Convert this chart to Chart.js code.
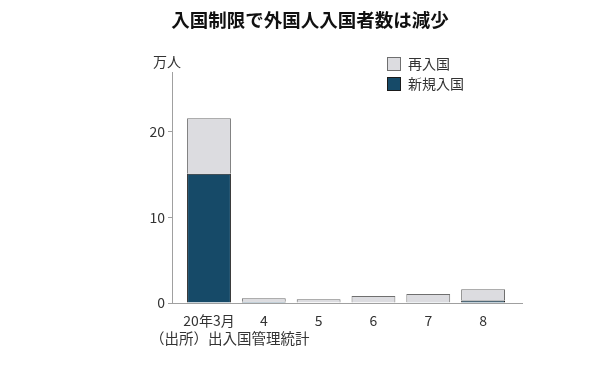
<!DOCTYPE html>
<html>
<head>
<meta charset="utf-8">
<script src="https://cdn.jsdelivr.net/npm/chart.js@4/dist/chart.umd.min.js"></script>
<style>
  html, body { margin: 0; padding: 0; background: #fff; }
  #wrap { width: 600px; height: 375px; position: relative; }
</style>
</head>
<body>
<div id="wrap"><canvas id="chart" width="600" height="375"></canvas></div>
<script>
const months = ['20年3月', '4', '5', '6', '7', '8'];
const newEntries = [15.1, 0.15, 0.05, 0.07, 0.1, 0.3];
const reEntries = [6.5, 0.4, 0.38, 0.75, 0.95, 1.3];
const yTicks = [0, 10, 20];

const FONT = '"Noto Sans CJK JP", "Noto Sans", sans-serif';
const DARK = '#164a68';
const LIGHT = '#dcdce0';

// titles, unit label, legend and source note
const decorations = {
  id: 'decorations',
  afterDraw(chart) {
    const ctx = chart.ctx;
    ctx.save();
    ctx.fillStyle = '#111';
    ctx.textBaseline = 'middle';
    ctx.textAlign = 'center';
    ctx.font = 'bold 18.5px ' + FONT;
    ctx.fillText('入国制限で外国人入国者数は減少', 310, 20);

    ctx.fillStyle = '#333';
    ctx.font = '14px ' + FONT;
    ctx.textAlign = 'left';
    ctx.fillText('万人', 153, 62);
    ctx.font = '14.5px ' + FONT;
    ctx.fillText('（出所）出入国管理統計', 150, 338);

    // legend
    ctx.font = '14px ' + FONT;
    const items = [chart.data.datasets[1], chart.data.datasets[0]];
    items.forEach((ds, i) => {
      const y = 57 + i * 20;
      ctx.fillStyle = ds.backgroundColor;
      ctx.fillRect(387, y, 14, 14);
      ctx.strokeStyle = ds.borderColor;
      ctx.lineWidth = 1;
      ctx.strokeRect(387.5, y + 0.5, 13, 13);
      ctx.fillStyle = '#333';
      ctx.fillText(ds.label, 408, y + 7);
    });
    ctx.restore();
  }
};

new Chart(document.getElementById('chart'), {
  type: 'bar',
  data: {
    datasets: [
      {
        label: '新規入国',
        data: newEntries.map((v, i) => ({ x: i, y: v })),
        backgroundColor: DARK,
        borderColor: '#1a1a1a',
        borderWidth: 1,
        barPercentage: 0.8,
        categoryPercentage: 1
      },
      {
        label: '再入国',
        data: reEntries.map((v, i) => ({ x: i, y: v })),
        backgroundColor: LIGHT,
        borderColor: '#6f6f6f',
        borderWidth: 1,
        barPercentage: 0.8,
        categoryPercentage: 1
      }
    ]
  },
  options: {
    responsive: false,
    animation: false,
    layout: { padding: { left: 0, right: 78, top: 72, bottom: 0 } },
    plugins: { legend: { display: false }, tooltip: { enabled: false } },
    scales: {
      x: {
        type: 'linear',
        stacked: true,
        offset: false,
        min: -0.675,
        max: 5.71,
        afterFit(scale) { scale.height = 72; },
        afterBuildTicks(scale) {
          scale.ticks = months.map((m, i) => ({ value: i }));
        },
        grid: { display: false },
        border: { color: '#a0a0a0', width: 1 },
        ticks: {
          padding: 1,
          maxRotation: 0,
          autoSkip: false,
          color: '#333',
          font: { family: FONT, size: 14 },
          callback: (v) => months[v] ?? ''
        }
      },
      y: {
        stacked: true,
        min: 0,
        max: 27,
        afterFit(scale) { scale.width = 172; },
        afterBuildTicks(scale) {
          scale.ticks = yTicks.map(v => ({ value: v }));
        },
        grid: { drawOnChartArea: false, tickLength: 4, color: '#a0a0a0' },
        border: { color: '#a0a0a0', width: 1 },
        ticks: {
          padding: 3,
          color: '#333',
          font: { family: FONT, size: 14 }
        }
      }
    }
  },
  plugins: [decorations]
});
</script>
</body>
</html>
